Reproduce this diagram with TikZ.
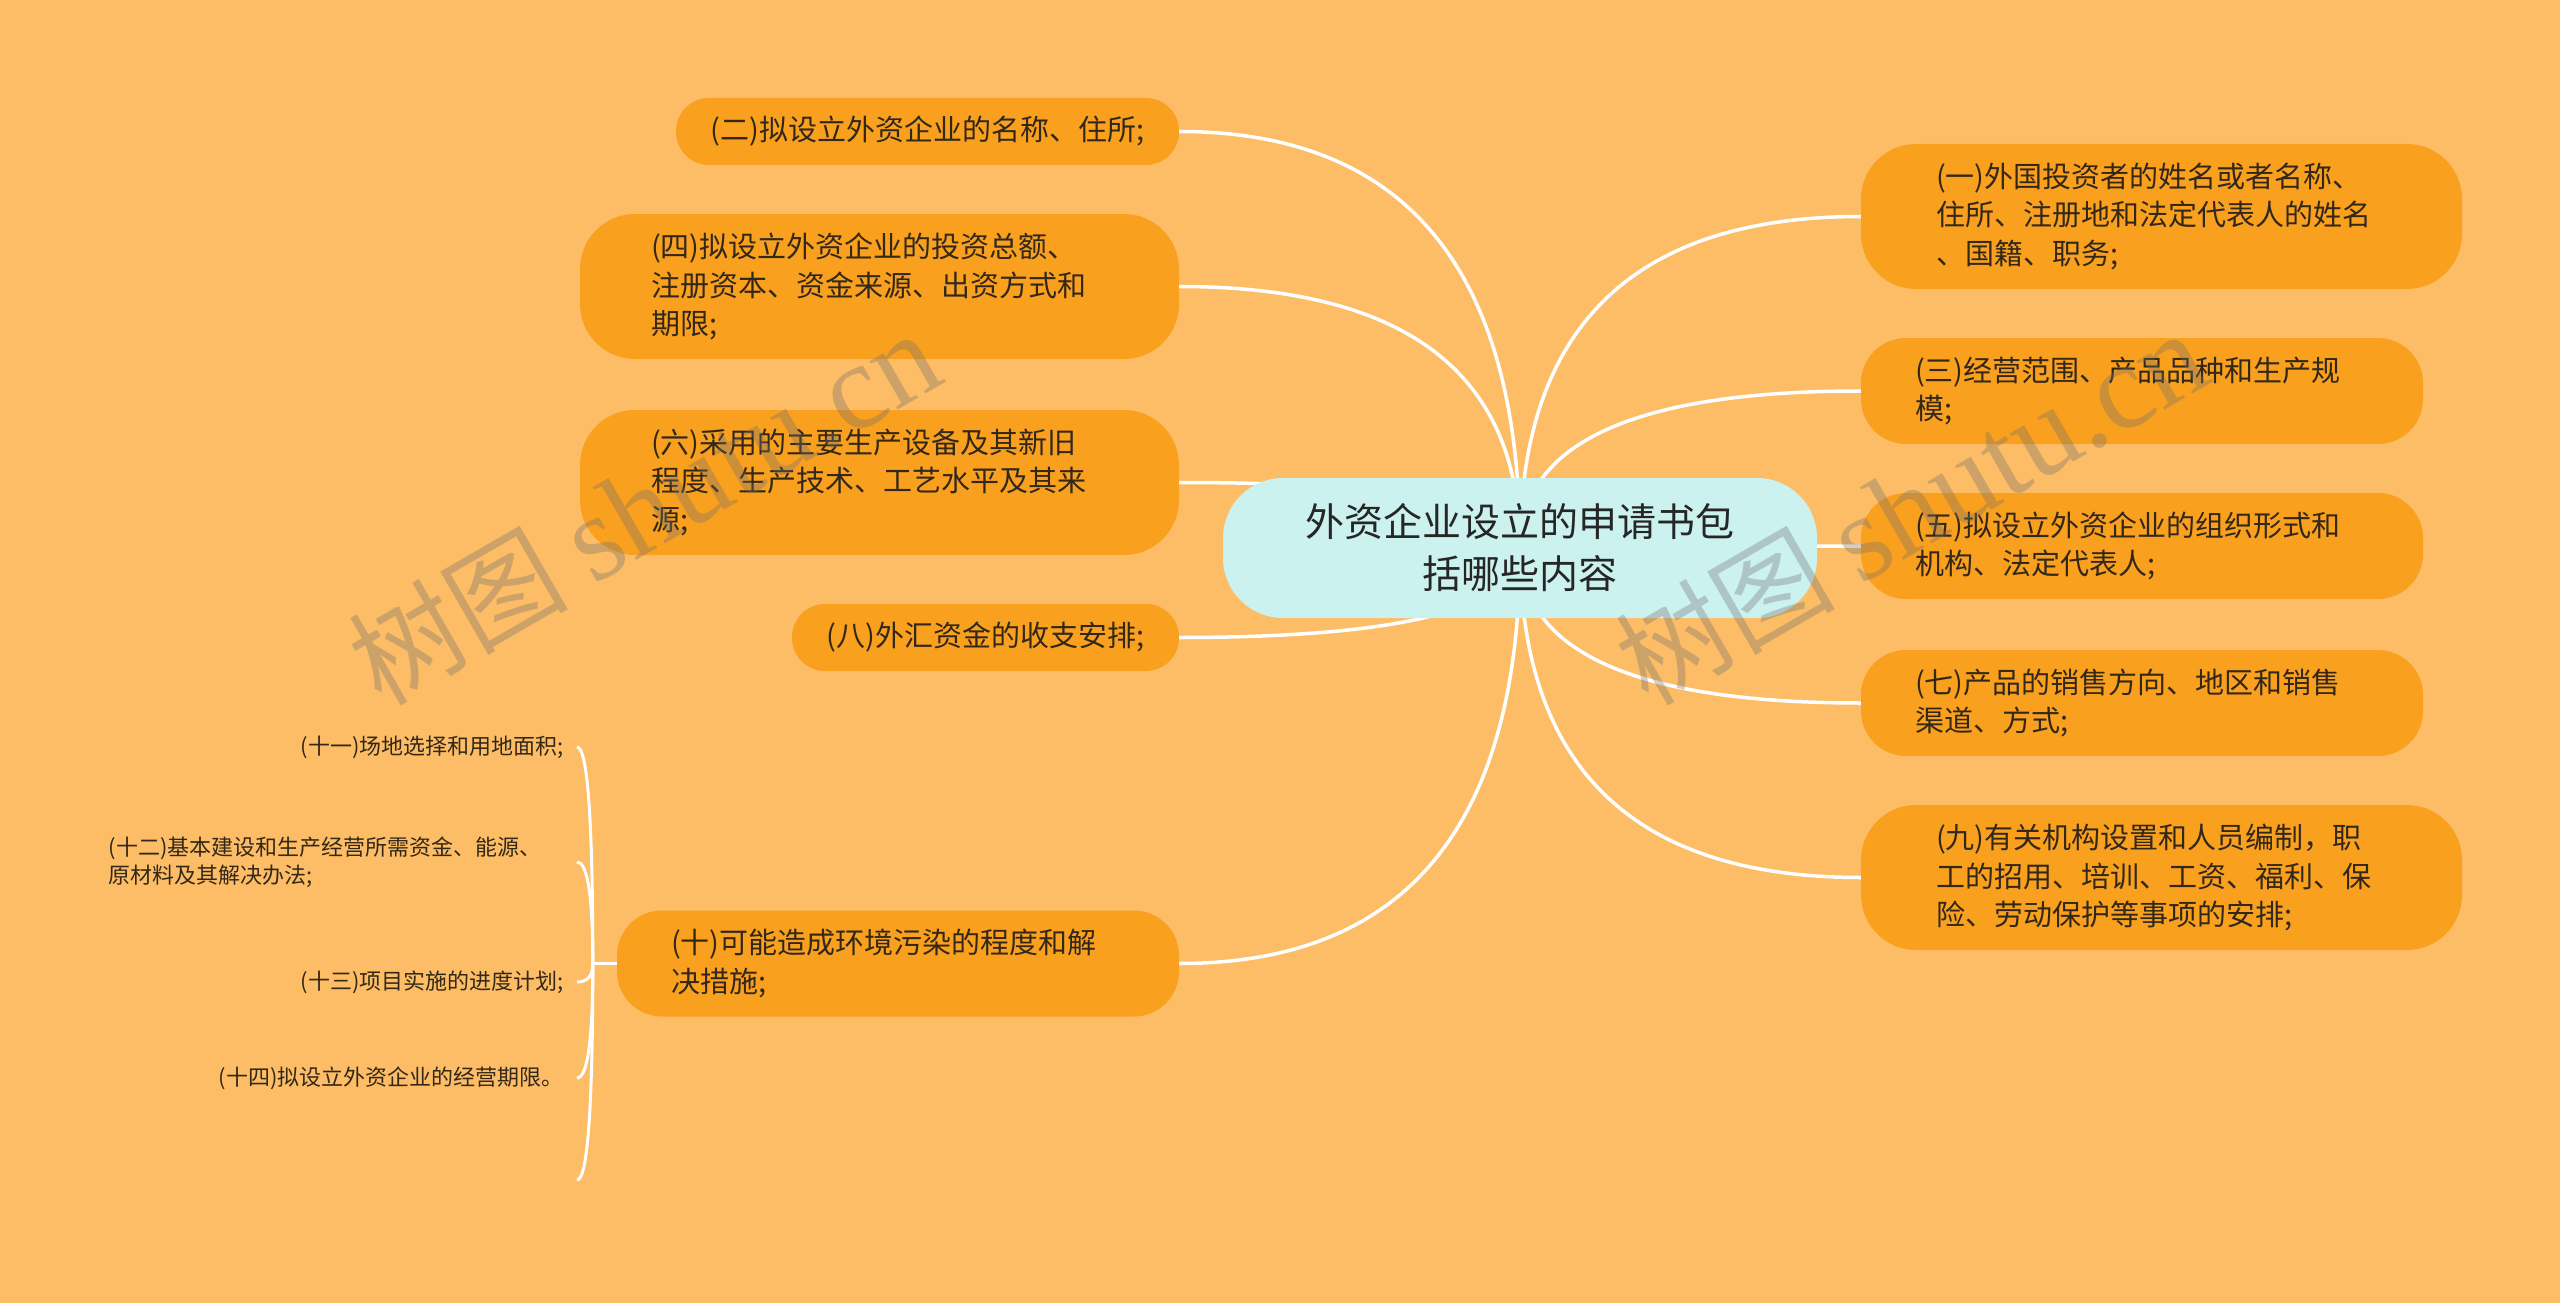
\documentclass[tikz,border=0pt]{standalone}
\usepackage{fontspec}
\setmainfont{Noto Sans CJK SC}
\newfontfamily\wmlatin{Liberation Serif}
\usetikzlibrary{calc}
\definecolor{bgc}{RGB}{253,189,102}
\definecolor{nodec}{RGB}{249,160,31}
\definecolor{rootc}{RGB}{204,242,240}
\definecolor{txtc}{RGB}{51,40,24}
\definecolor{roottxt}{RGB}{38,38,38}
\definecolor{wmc}{RGB}{110,110,110}
\pgfdeclarelayer{back}
\pgfdeclarelayer{links}
\pgfdeclarelayer{front}
\pgfsetlayers{back,links,main,front}
\newcommand\mmlink[2]{%
  \coordinate (qq) at (#1 |- #2);
  \draw[conn] (#1) .. controls ($(#1)!0.6667!(qq)$) and ($(#2)!0.6667!(qq)$) .. (#2);}
\newcommand\sublink[2]{%
  \coordinate (qq) at (#1 |- #2);
  \draw[subconn] (#1) .. controls ($(#1)!0.6667!(qq)$) and ($(#2)!0.6667!(qq)$) .. (#2);}
\tikzset{
  kid/.style={fill=nodec, text=txtc, font=\fontsize{29}{38.5}\selectfont, inner ysep=0pt},
  kidone/.style={kid, minimum height=67pt, rounded corners=33pt, align=center, inner xsep=0pt},
  kidtwo/.style={kid, minimum height=106pt, rounded corners=45pt, align=left, inner xsep=54pt, text width=454pt},
  kidthree/.style={kid, minimum height=145pt, rounded corners=55pt, align=left},
  rootbox/.style={fill=rootc, text=roottxt, font=\fontsize{39}{52}\selectfont, align=center,
    minimum width=594pt, minimum height=140pt, rounded corners=60pt, inner sep=0pt},
  sub/.style={text=txtc, font=\fontsize{22}{28}\selectfont, inner xsep=13pt, inner ysep=0pt, anchor=east},
  conn/.style={draw=white, line width=3.5pt},
  subconn/.style={draw=white, line width=3pt},
  wm/.style={text=wmc, opacity=0.33, rotate=30, inner sep=0pt}
}
\begin{document}
\begin{tikzpicture}[x=1pt,y=-1pt]
\begin{pgfonlayer}{back}
\fill[bgc] (0,0) rectangle (2560,1303);
\end{pgfonlayer}
\useasboundingbox (0,0) rectangle (2560,1303);

\node[rootbox] (root) at (1520,548) {外资企业设立的申请书包\\括哪些内容};

% left
\node[kidone, minimum width=503pt] (n2) at (927.5,131.5) {(二)拟设立外资企业的名称、住所;};
\node[kidthree, inner xsep=71pt, text width=457pt] (n4) at (879.5,286.5) {(四)拟设立外资企业的投资总额、\\注册资本、资金来源、出资方式和\\期限;};
\node[kidthree, inner xsep=71pt, text width=457pt] (n6) at (879.5,482.5) {(六)采用的主要生产设备及其新旧\\程度、生产技术、工艺水平及其来\\源;};
\node[kidone, minimum width=387pt] (n8) at (985.5,637.5) {(八)外汇资金的收支安排;};
\node[kidtwo] (n10) at (898,963.5) {(十)可能造成环境污染的程度和解\\决措施;};

% right
\node[kidthree, inner xsep=75pt, text width=451pt] (n1) at (2161.5,216.5) {(一)外国投资者的姓名或者名称、\\住所、注册地和法定代表人的姓名\\、国籍、职务;};
\node[kidtwo] (n3) at (2142,391) {(三)经营范围、产品品种和生产规\\模;};
\node[kidtwo] (n5) at (2142,546) {(五)拟设立外资企业的组织形式和\\机构、法定代表人;};
\node[kidtwo] (n7) at (2142,703) {(七)产品的销售方向、地区和销售\\渠道、方式;};
\node[kidthree, inner xsep=75pt, text width=451pt] (n9) at (2161.5,877.5) {(九)有关机构设置和人员编制，职\\工的招用、培训、工资、福利、保\\险、劳动保护等事项的安排;};

% sub-items of (十)
\node[sub] (k11) at (577,747) {(十一)场地选择和用地面积;};
\node[sub, text width=455pt, align=left] (k12) at (577,862) {(十二)基本建设和生产经营所需资金、能源、\\原材料及其解决办法;};
\node[sub] (k13) at (577,982) {(十三)项目实施的进度计划;};
\node[sub] (k14) at (577,1078) {(十四)拟设立外资企业的经营期限。};
\coordinate (kend) at (577,1180);

\begin{pgfonlayer}{links}
\foreach \k in {n2,n4,n6,n8,n10} {\mmlink{root.center}{\k.east}}
\foreach \k in {n1,n3,n5,n7,n9} {\mmlink{root.center}{\k.west}}
\coordinate (cusp) at ($(n10.west)+(-24,0)$);
\draw[conn] (n10.west) -- (cusp);
\foreach \k in {k11.east,k12.east,k13.east,k14.east,kend} {\sublink{cusp}{\k}}
\end{pgfonlayer}

\begin{pgfonlayer}{front}
\node[wm] (wm1) at (644,508) {\fontsize{110}{110}\selectfont 树图 {\wmlatin\fontsize{122}{122}\selectfont shutu.cn}};
\node[wm] (wm2) at (1911,508) {\fontsize{110}{110}\selectfont 树图 {\wmlatin\fontsize{122}{122}\selectfont shutu.cn}};
\end{pgfonlayer}
\end{tikzpicture}
\end{document}
